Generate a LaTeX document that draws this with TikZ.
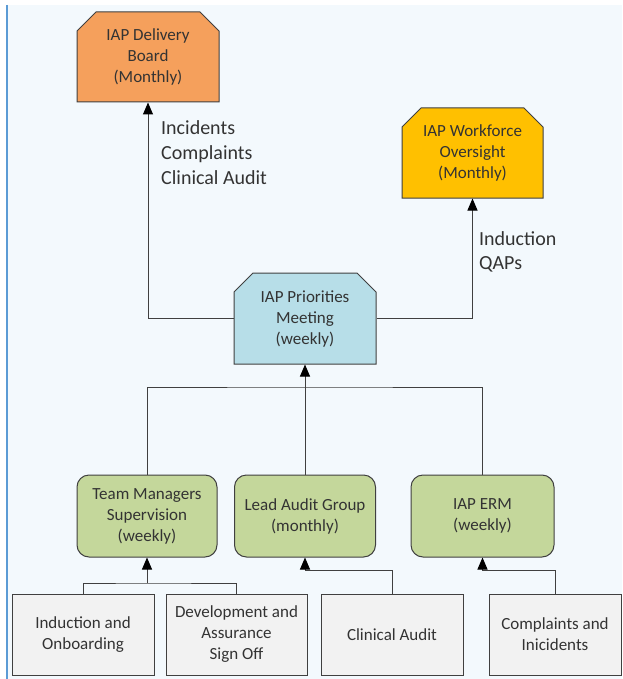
\documentclass[tikz,border=0pt]{standalone}
\usepackage{fontspec}
\setmainfont{Carlito}
\usepackage{xcolor}
\usepackage{tikz}
\usetikzlibrary{positioning,shapes.misc,arrows.meta}

\definecolor{bgblue}{HTML}{F3F9FD}
\definecolor{edgeblue}{HTML}{5B9BD5}
\definecolor{boardorange}{HTML}{F5A05C}
\definecolor{workyellow}{HTML}{FFC000}
\definecolor{prioblue}{HTML}{B7DEE8}
\definecolor{groupgreen}{HTML}{C4D79B}
\definecolor{sourcegray}{HTML}{F2F2F2}
\definecolor{linegray}{HTML}{404040}
\definecolor{textgray}{HTML}{333333}

\begin{document}
\begin{tikzpicture}[
	x=1pt, y=-1pt,
	% khung chung cho moi o
	basebox/.style={draw=linegray, line width=1pt, text=textgray, align=center,
		inner sep=2pt, font=\fontsize{17}{21}\selectfont},
	meeting/.style={basebox, chamfered rectangle,
		chamfered rectangle corners={north west, north east},
		chamfered rectangle xsep=10pt, chamfered rectangle ysep=9pt},
	group/.style={basebox, fill=groupgreen, rounded corners=12pt, minimum height=82pt},
	source/.style={basebox, fill=sourcegray, minimum height=81pt},
	link/.style={draw=linegray, line width=1pt},
	feed/.style={link, -{Triangle[length=12pt, width=10pt, color=black]}},
	flowlabel/.style={align=left, text=textgray, inner sep=0pt, anchor=west}
	]
	% --- NEN ---
	\useasboundingbox (0,0) rectangle (622,679);
	\fill[bgblue] (7,5) rectangle (622,679);
	\draw[edgeblue, line width=2pt] (7,5) -- (7,679);
	
	% --- CAP TREN ---
	\node[meeting, fill=boardorange, minimum width=142pt, minimum height=90pt] (board) at (148,57) {IAP Delivery\\Board\\(Monthly)};
	\node[meeting, fill=workyellow, minimum width=141pt, minimum height=90pt] (workforce) at (472.5,153) {IAP Workforce\\Oversight\\(Monthly)};
	\node[meeting, fill=prioblue, minimum width=142pt, minimum height=91pt] (priorities) at (305,318.5) {IAP Priorities\\Meeting\\(weekly)};
	
	% --- NHOM ---
	\node[group, minimum width=140pt] (team) at (147,516) {Team Managers\\Supervision\\(weekly)};
	\node[group, minimum width=141pt] (audit) at (305,516) {Lead Audit Group\\(monthly)};
	\node[group, minimum width=143pt] (erm) at (482.5,516) {IAP ERM\\(weekly)};
	
	% --- NGUON ---
	\node[source, minimum width=142pt] (induction) at (83,634.5) {Induction and\\Onboarding};
	\node[source, minimum width=141pt] (development) at (236.5,634.5) {Development and\\Assurance\\Sign Off};
	\node[source, minimum width=142pt] (clinical) at (392,634.5) {Clinical Audit};
	\node[source, minimum width=132pt] (complaints) at (555,634.5) {Complaints and\\Inicidents};
	
	% --- NHAN ---
	\node[flowlabel, font=\fontsize{20}{25}\selectfont] (boardfeeds) at (161,153) {Incidents\\Complaints\\Clinical Audit};
	\node[flowlabel, font=\fontsize{20}{24}\selectfont] (workfeeds) at (479,251.5) {Induction\\QAPs};
	
	% --- MUI TEN ---
	\draw[feed] (priorities.west) -| (board.south);
	\draw[feed] (priorities.east) -| (workforce.south);
	\coordinate (hub) at (305,387);
	\draw[link] (team.north) |- (hub) -| (erm.north);
	\draw[feed] (audit.north) -- (priorities.south);
	\coordinate (tmhub) at (147,583);
	\draw[link] (induction.north) |- (tmhub) -| (development.north);
	\draw[feed] (tmhub) -- (team.south);
	\draw[feed] (clinical.north) -- ++(0,-23) -| (audit.south);
	\draw[feed] (complaints.north) -- ++(0,-23) -| (erm.south);
	
\end{tikzpicture}
\end{document}
